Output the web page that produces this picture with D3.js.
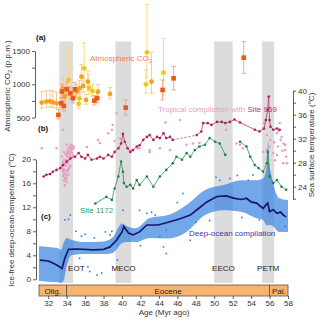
<!DOCTYPE html>
<html>
<head>
<meta charset="utf-8">
<script src="https://cdn.jsdelivr.net/npm/d3@7"></script>
<style>
body{margin:0;background:#fff;}
svg{display:block;font-family:"Liberation Sans",Arial,sans-serif;}
</style>
</head>
<body>
<svg id="canvas" width="320" height="319"></svg>
<script>
// ---- values ----
// climate events (grey bands)
let eventNames = ['EOT', 'MECO', 'EECO', 'PETM'];
let eventStart = [33.2, 39.3, 50.0, 55.2];
let eventEnd = [34.7, 41.0, 52.0, 56.5];

// epochs
let epochNames = ['Olig.', 'Eocene', 'Pal.'];
let epochStart = [31, 34, 56];
let epochEnd = [34, 56, 58];

// axis ticks
let ageTicks = [32, 34, 36, 38, 40, 42, 44, 46, 48, 50, 52, 54, 56, 58];
let co2Ticks = [500, 750, 1000, 1250, 1500];
let deepTicks = [0, 2, 4, 6, 8, 10, 12, 14, 16, 18, 20];
let sstTicks = [22, 24, 26, 28, 30, 32, 34, 36, 38, 40];

// (a) atmospheric CO2 proxies: o = orange circle, y = yellow circle, s = square
let co2Age = [31.3, 31.8, 32.2, 32.5, 32.9, 33.6, 33.8, 35.1, 35.4, 35.6, 35.8, 36.1, 36.3, 37.4, 38.7, 43.2,
              34.2, 35.3, 35.4, 35.9, 36.4, 36.8, 42.7, 42.6, 44.5,
              33.1, 33.4, 33.5, 33.7, 34.0, 34.4, 34.7, 34.9, 37.0, 37.3, 40.4, 44.4, 45.6, 53.2];
let co2Value = [725, 740, 745, 730, 715, 940, 815, 890, 940, 1115, 975, 765, 1040, 890, 855, 1040,
                1065, 705, 790, 1240, 950, 900, 1480, 1000, 1175,
                540, 715, 890, 675, 925, 865, 790, 925, 755, 790, 650, 915, 1090, 1400];
let co2Low = [640, 650, 660, 650, 640, 840, 730, 800, 850, 950, 880, 700, 900, 800, 780, 865,
              900, 640, 720, 1050, 850, 820, 1100, 870, 840,
              480, 650, 790, 600, 840, 780, 720, 830, 690, 720, 540, 765, 915, 1165];
let co2High = [890, 900, 910, 900, 880, 1100, 950, 1000, 1060, 1300, 1100, 850, 1200, 1000, 950, 1480,
               1560, 780, 900, 1620, 1150, 1000, 2200, 1215, 1690,
               620, 800, 1000, 760, 1030, 960, 880, 1030, 830, 880, 765, 1065, 1265, 1640];
let co2Type = ['o', 'o', 'o', 'o', 'o', 'o', 'o', 'o', 'o', 'o', 'o', 'o', 'o', 'o', 'o', 'o',
               'y', 'y', 'y', 'y', 'y', 'y', 'y', 'y', 'y',
               's', 's', 's', 's', 's', 's', 's', 's', 's', 's', 's', 's', 's', 's'];

// (b) Site 959 sea surface temperature
let site959Age = [31.5, 31.8, 32.2, 32.5, 32.9, 33.3, 33.6, 34.0, 34.4, 34.9, 35.3, 35.6, 36.0, 36.3, 36.7,
                  37.3, 37.6, 38.0, 38.5, 38.9, 39.2, 39.6, 39.9, 40.1, 40.3, 40.6, 40.9, 41.2, 41.6, 41.9,
                  42.3, 42.7, 43.0, 43.4, 43.8, 44.1, 44.5, 44.8, 45.2, 45.5, 48.1, 48.6, 48.8, 49.3, 49.7,
                  50.3, 50.8, 51.2, 51.7, 52.2, 52.8, 54.4, 54.9, 55.4, 55.6, 55.8, 55.9, 56.0, 56.1, 56.4,
                  56.8, 57.1];
let site959Temp = [25.7, 26.0, 26.1, 26.5, 26.8, 27.1, 27.6, 28.2, 28.7, 29.0, 29.6, 29.0, 28.7, 29.3, 28.5,
                   28.7, 29.0, 28.7, 29.3, 29.0, 29.8, 30.4, 31.2, 32.8, 31.5, 30.4, 29.8, 30.1, 30.7, 30.9,
                   31.8, 32.3, 32.6, 31.8, 32.3, 32.1, 32.9, 32.1, 32.3, 31.8, 32.6, 33.2, 34.6, 34.6, 34.3,
                   34.8, 34.8, 34.6, 34.8, 35.2, 34.7, 33.5, 33.2, 33.7, 35.1, 36.8, 39.0, 35.1, 34.0, 33.5,
                   33.7, 33.5];

// (b) Site 1172 sea surface temperature
let site1172Age = [37.1, 38.3, 38.9, 39.2, 39.6, 39.9, 40.1, 40.2, 40.5, 40.9, 41.2, 41.6, 41.9, 42.7, 43.4,
                   44.1, 44.8, 45.5, 45.9, 46.5, 47.0, 47.4, 47.9, 48.4, 49.0, 49.5, 50.1, 50.6, 51.2, 52.8,
                   53.5, 53.9, 54.4, 54.8, 55.3, 55.7, 55.8, 56.0, 56.4, 56.8, 57.3, 57.8];
let site1172Temp = [21.2, 22.3, 21.8, 23.7, 25.7, 28.2, 26.5, 24.6, 24.0, 24.3, 23.7, 25.1, 24.3, 25.7, 24.0,
                    25.7, 26.8, 27.9, 29.0, 28.5, 29.6, 29.0, 30.1, 30.7, 31.0, 32.1, 31.5, 31.2, 29.3, 31.5,
                    30.7, 29.0, 27.6, 27.1, 26.5, 27.9, 29.8, 25.7, 24.6, 25.1, 24.0, 23.5];

// (b) tropical compilation (scatter)
let tropicalAge = [33.5, 33.6, 33.6, 33.7, 33.7, 33.8, 33.8, 33.9, 33.9, 33.9, 34.0, 34.0, 34.0, 34.1, 34.1,
                   34.1, 34.2, 34.2, 34.2, 34.3, 34.3, 34.4, 34.4, 34.5, 34.5, 34.6, 34.7, 33.5, 33.6, 33.7,
                   34.0, 34.8, 33.8, 33.6, 33.7, 33.8, 33.9, 34.0, 34.1, 34.2, 34.3, 34.4, 34.5, 34.6, 34.7,
                   33.9, 34.1, 34.3, 34.5, 33.7, 34.0, 34.2,
                   31.3, 32.9, 33.6, 36.2, 37.4, 37.6, 38.5, 38.9, 39.0, 39.2, 39.4, 39.8, 41.1, 41.7, 41.9,
                   43.0, 43.0, 44.1, 44.7, 45.2, 46.3, 47.0, 47.7, 48.4, 51.3, 52.4, 52.8, 53.1,
                   55.4, 55.7, 56.0, 56.4, 56.8, 57.1, 57.3, 57.5, 57.7, 57.8, 56.9, 57.5, 56.6, 56.1, 56.8,
                   55.7, 55.3, 57.2, 57.7, 57.9, 56.0, 57.0, 57.4, 56.5];
let tropicalTemp = [29.0, 28.0, 27.0, 26.2, 25.0, 24.3, 25.5, 29.5, 28.5, 27.5, 26.5, 25.5, 24.8, 30.0, 29.0,
                    28.0, 27.0, 26.0, 30.5, 29.5, 28.5, 27.5, 30.8, 29.8, 28.8, 30.2, 29.2, 27.5, 25.8, 29.8,
                    31.0, 30.5, 24.2, 26.6, 27.6, 26.8, 26.0, 27.9, 26.7, 28.4, 27.2, 29.1, 30.4, 29.6, 30.8,
                    25.2, 29.6, 30.1, 31.0, 28.4, 29.3, 29.8,
                    30.4, 30.4, 33.5, 30.6, 31.8, 31.3, 32.9, 33.5, 34.3, 31.6, 36.2, 32.0, 30.1, 30.4, 30.4,
                    29.8, 30.1, 30.4, 34.7, 30.1, 35.1, 31.0, 31.2, 31.3, 33.5, 31.2, 31.0, 30.4,
                    34.6, 32.6, 30.7, 29.6, 32.9, 34.6, 32.3, 31.2, 30.1, 29.0, 30.7, 27.9, 28.4, 31.8, 29.3,
                    30.1, 29.8, 31.8, 31.0, 27.9, 39.1, 33.3, 30.0, 31.4];

// (c) deep-ocean compilation: smoothed curve
let deepAge = [31.1, 32.0, 32.5, 33.1, 33.5, 33.8, 34.2, 35.1, 36.9, 38.0, 38.7, 39.4, 40.0, 40.2, 40.7,
               41.2, 41.9, 42.7, 43.9, 45.2, 46.3, 47.4, 48.3, 49.2, 50.3, 51.3, 52.2, 53.0, 53.5, 54.0,
               54.6, 55.3, 55.6, 55.8, 56.0, 56.4, 56.8, 57.2, 57.5, 57.8];
let deepTemp = [3.2, 3.05, 2.7, 2.2, 1.8, 3.5, 5.0, 5.05, 4.9, 5.0, 5.4, 6.5, 7.9, 8.8, 7.7,
                7.4, 7.9, 9.05, 9.05, 9.6, 10.1, 10.7, 11.8, 12.9, 13.8, 13.9, 13.5, 13.3, 13.5, 12.9,
                12.7, 11.8, 12.4, 12.7, 11.3, 11.6, 11.0, 11.2, 10.7, 10.4];

// (c) deep-ocean compilation: spread of the individual measurements
let deepEnvAge = [31.0, 32.0, 33.0, 33.4, 33.7, 34.0, 34.5, 36, 38, 39, 40, 40.5, 41.5, 43, 45, 47, 49, 51,
                  53, 54.5, 55.3, 55.7, 55.85, 56.0, 56.2, 57, 58];
let deepEnvHigh = [5.5, 5.4, 5.2, 4.9, 6.2, 6.9, 6.6, 6.2, 6.3, 7.0, 9.3, 8.9, 8.5, 10.2, 10.7, 12.4, 14.9, 15.7,
                   16.5, 16.5, 16.8, 19, 23, 19, 17.4, 13.6, 13.2];
let deepEnvLow = [-0.3, -0.4, -0.5, -0.6, -0.1, 2.2, 4.0, 4.2, 4.2, 4.4, 6.0, 6.2, 6.2, 6.9, 6.8, 7.9, 10.7, 11.5,
                  11.2, 10.2, 9.9, 9.0, 9.0, 9.0, 9.0, 7.9, 7.9];

// (c) single measurements lying outside that spread
let deepOutAge = [33.8, 34.4, 34.2, 36.5, 37.3, 35.4, 36.3, 37.8, 41.9, 42.7, 43.6, 44.1, 44.5, 44.8, 46.6,
                  50.6, 51.7, 53.7, 54.9, 57.7, 40.1, 38.7, 38.2, 44.8, 47.4, 35.0, 36.0, 39.5, 48.0, 52.5,
                  35.6, 37.0, 38.9, 42.0, 43.2, 46.0, 49.5, 50.2, 53.0, 54.2];
let deepOutTemp = [9.9, 10.7, 10.0, 1.3, 0.7, 3.5, 2.1, 1.05, 11.5, 11.0, 10.7, 7.1, 5.4, 8.2, 14.3,
                   16.5, 16.8, 16.5, 9.9, 8.8, 11.5, 7.4, 7.9, 4.3, 6.5, 8.0, 7.5, 3.2, 9.5, 17.3,
                   7.2, 6.9, 8.0, 5.6, 11.2, 12.8, 9.8, 17.0, 10.3, 17.4];

// ---- drawing ----
let canvas = d3.select('#canvas');
let font = '"Liberation Sans",Arial,sans-serif';
let ink = '#333';

// scales
let x = d3.scaleLinear().domain([31, 58]).range([39, 288]);
let yCO2 = d3.scaleLinear().domain([500, 1500]).range([117.6, 51]);
let ySST = d3.scaleLinear().domain([24, 40]).range([186.7, 90.7]);
let yDeep = d3.scaleLinear().domain([0, 20]).range([279.3, 159.3]);

// grey event bands
eventNames.forEach((name, i) => {
    canvas.append('rect')
        .attr('x', x(eventStart[i]))
        .attr('y', 41.5)
        .attr('width', x(eventEnd[i]) - x(eventStart[i]))
        .attr('height', 283 - 41.5)
        .attr('fill', '#dcdcdc');
    //EOT label sits just right of its band
    canvas.append('text')
        .attr('x', i === 0 ? x(eventEnd[i]) - 5 : (x(eventStart[i]) + x(eventEnd[i])) / 2)
        .attr('y', 271)
        .attr('text-anchor', i === 0 ? 'start' : 'middle')
        .attr('font-size', 8)
        .attr('fill', '#222')
        .text(name);
});

// deep-ocean spread
let envData = deepEnvAge.map((a, i) => ({age: a, lo: deepEnvLow[i], hi: deepEnvHigh[i]}));
canvas.append('path')
    .datum(envData)
    .attr('d', d3.area().x(d => x(d.age)).y0(d => yDeep(d.lo)).y1(d => yDeep(d.hi)).curve(d3.curveMonotoneX))
    .attr('fill', '#2f7fe0')
    .attr('opacity', 0.68);

canvas.selectAll('.deepOut')
    .data(deepOutAge.map((a, i) => ({age: a, t: deepOutTemp[i]})))
    .enter()
    .append('rect')
    .attr('x', d => x(d.age) - 0.8)
    .attr('y', d => yDeep(d.t) - 0.8)
    .attr('width', 1.6)
    .attr('height', 1.6)
    .attr('fill', '#2f7fe0');

// deep-ocean smoothed curve
canvas.append('path')
    .datum(deepAge.map((a, i) => ({age: a, t: deepTemp[i]})))
    .attr('d', d3.line().x(d => x(d.age)).y(d => yDeep(d.t)))
    .attr('fill', 'none')
    .attr('stroke', '#16166e')
    .attr('stroke-width', 1.7);

// tropical compilation scatter
canvas.selectAll('.trop')
    .data(tropicalAge.map((a, i) => ({age: a, t: tropicalTemp[i]})))
    .enter()
    .append('circle')
    .attr('cx', d => x(d.age))
    .attr('cy', d => ySST(d.t))
    .attr('r', 1.25)
    .attr('fill', '#e89cc2');

// Site 959: solid line, dashed across the long gap
let s959 = site959Age.map((a, i) => ({age: a, t: site959Temp[i]}));
let segs959 = [[]];
s959.forEach((d, i) => {
    if(i > 0 && d.age - s959[i - 1].age > 2){
        canvas.append('line')
            .attr('x1', x(s959[i - 1].age)).attr('y1', ySST(s959[i - 1].t))
            .attr('x2', x(d.age)).attr('y2', ySST(d.t))
            .attr('stroke', '#b8336e')
            .attr('stroke-width', 0.8)
            .attr('stroke-dasharray', '2,2');
        segs959.push([]);
    }
    segs959[segs959.length - 1].push(d);
});
let line = d3.line().x(d => x(d.age)).y(d => ySST(d.t));
segs959.forEach(seg => {
    canvas.append('path').datum(seg).attr('d', line)
        .attr('fill', 'none').attr('stroke', '#b8336e').attr('stroke-width', 0.8);
});
canvas.selectAll('.p959')
    .data(s959).enter().append('circle')
    .attr('cx', d => x(d.age)).attr('cy', d => ySST(d.t))
    .attr('r', 1.3).attr('fill', '#ad1f5c');

// Site 1172: broken across gaps
let s1172 = site1172Age.map((a, i) => ({age: a, t: site1172Temp[i]}));
let segs1172 = [[]];
s1172.forEach((d, i) => {
    if(i > 0 && d.age - s1172[i - 1].age > 1.2){
        segs1172.push([]);
    }
    segs1172[segs1172.length - 1].push(d);
});
segs1172.forEach(seg => {
    canvas.append('path').datum(seg).attr('d', line)
        .attr('fill', 'none').attr('stroke', '#2f9158').attr('stroke-width', 0.8);
});
canvas.selectAll('.p1172')
    .data(s1172).enter().append('circle')
    .attr('cx', d => x(d.age)).attr('cy', d => ySST(d.t))
    .attr('r', 1.3).attr('fill', '#1f8148');

// CO2 error bars and markers
let co2 = co2Age.map((a, i) => ({age: a, v: co2Value[i], lo: co2Low[i], hi: co2High[i], type: co2Type[i]}));
let barColour = {o: '#f8c48a', y: '#f6d873', s: '#f2a283'};
let markColour = {o: '#f5a020', y: '#f3c414', s: '#ea5a16'};
co2.forEach(d => {
    let g = canvas.append('g').attr('stroke', barColour[d.type]).attr('stroke-width', 0.9);
    g.append('line').attr('x1', x(d.age)).attr('x2', x(d.age)).attr('y1', yCO2(d.lo)).attr('y2', yCO2(d.hi));
    g.append('line').attr('x1', x(d.age) - 2.2).attr('x2', x(d.age) + 2.2).attr('y1', yCO2(d.lo)).attr('y2', yCO2(d.lo));
    g.append('line').attr('x1', x(d.age) - 2.2).attr('x2', x(d.age) + 2.2).attr('y1', yCO2(d.hi)).attr('y2', yCO2(d.hi));
});
co2.forEach(d => {
    if(d.type === 's'){
        canvas.append('rect')
            .attr('x', x(d.age) - 2.3).attr('y', yCO2(d.v) - 2.3)
            .attr('width', 4.6).attr('height', 4.6)
            .attr('fill', markColour.s);
    } else {
        canvas.append('circle')
            .attr('cx', x(d.age)).attr('cy', yCO2(d.v))
            .attr('r', 2.4)
            .attr('fill', markColour[d.type]);
    }
});

// axes
let styleAxis = (g) => {
    g.attr('font-family', font).attr('font-size', 8);
    g.selectAll('path,line').attr('stroke', ink).attr('stroke-width', 0.8);
    g.selectAll('text').attr('fill', ink);
};

canvas.append('g')
    .attr('transform', 'translate(35,0)')
    .call(d3.axisLeft(yCO2).tickValues(co2Ticks).tickSize(3).tickSizeOuter(0).tickPadding(2)
        .tickFormat(d => d % 500 === 0 ? d : ''))
    .call(styleAxis);

canvas.append('g')
    .attr('transform', 'translate(36,0)')
    .call(d3.axisLeft(yDeep).tickValues(deepTicks).tickSize(3).tickSizeOuter(0).tickPadding(2)
        .tickFormat(d => d % 4 === 0 ? d : ''))
    .call(styleAxis);

let ySSTaxis = ySST.copy().domain([22, 40]).range([ySST(22), ySST(40)]);
canvas.append('g')
    .attr('transform', 'translate(293,0)')
    .call(d3.axisRight(ySSTaxis).tickValues(sstTicks).tickSize(3).tickSizeOuter(0).tickPadding(2)
        .tickFormat(d => d % 4 === 0 ? d : ''))
    .call(styleAxis);

// epoch bar
epochNames.forEach((name, i) => {
    canvas.append('rect')
        .attr('x', x(epochStart[i]))
        .attr('y', 285)
        .attr('width', x(epochEnd[i]) - x(epochStart[i]))
        .attr('height', 11)
        .attr('fill', '#f8b46c')
        .attr('stroke', '#555')
        .attr('stroke-width', 0.8);
    canvas.append('text')
        .attr('x', (x(epochStart[i]) + x(epochEnd[i])) / 2)
        .attr('y', 293.5)
        .attr('text-anchor', 'middle')
        .attr('font-size', 8)
        .attr('fill', '#222')
        .text(name);
});

canvas.append('g')
    .attr('transform', 'translate(0,296)')
    .call(d3.axisBottom(x).tickValues(ageTicks).tickSize(3).tickSizeOuter(0).tickPadding(1))
    .call(styleAxis)
    .call(g => g.select('.domain').remove());

// axis titles
canvas.append('text')
    .attr('x', 164).attr('y', 315)
    .attr('text-anchor', 'middle').attr('font-size', 8).attr('fill', ink)
    .text('Age (Myr ago)');

let co2Title = canvas.append('text')
    .attr('transform', 'translate(10,86) rotate(-90)')
    .attr('text-anchor', 'middle').attr('font-size', 8).attr('fill', ink);
co2Title.append('tspan').text('Atmospheric CO');
co2Title.append('tspan').attr('font-size', 5.5).attr('dy', 2).text('2');
co2Title.append('tspan').attr('dy', -2).text(' (p.p.m.)');

canvas.append('text')
    .attr('transform', 'translate(14,220) rotate(-90)')
    .attr('text-anchor', 'middle').attr('font-size', 8).attr('fill', ink)
    .text('Ice-free deep-ocean temperature (°C)');

canvas.append('text')
    .attr('transform', 'translate(314,145) rotate(-90)')
    .attr('text-anchor', 'middle').attr('font-size', 8).attr('fill', ink)
    .text('Sea surface temperature (°C)');

// panel letters
[['(a)', 36, 40], ['(b)', 38, 131], ['(c)', 41, 219]].forEach(p => {
    canvas.append('text')
        .attr('x', p[1]).attr('y', p[2])
        .attr('font-size', 8).attr('font-weight', 'bold').attr('fill', '#111')
        .text(p[0]);
});

// series labels
let co2Label = canvas.append('text')
    .attr('x', 90).attr('y', 61)
    .attr('font-size', 8).attr('fill', '#ef7d4c');
co2Label.append('tspan').text('Atmospheric CO');
co2Label.append('tspan').attr('font-size', 5.5).attr('dy', 2).text('2');

let tropLabel = canvas.append('text')
    .attr('x', 158).attr('y', 112)
    .attr('font-size', 8).attr('fill', '#e8a0c4');
tropLabel.append('tspan').text('Tropical compilation with ');
tropLabel.append('tspan').attr('fill', '#b8336e').text('Site 959');

canvas.append('text')
    .attr('x', 80).attr('y', 213)
    .attr('font-size', 8).attr('fill', '#3a9a62')
    .text('Site 1172');

canvas.append('text')
    .attr('x', 189).attr('y', 236)
    .attr('font-size', 8).attr('fill', '#4536b0')
    .text('Deep-ocean compilation');
</script>
</body>
</html>
